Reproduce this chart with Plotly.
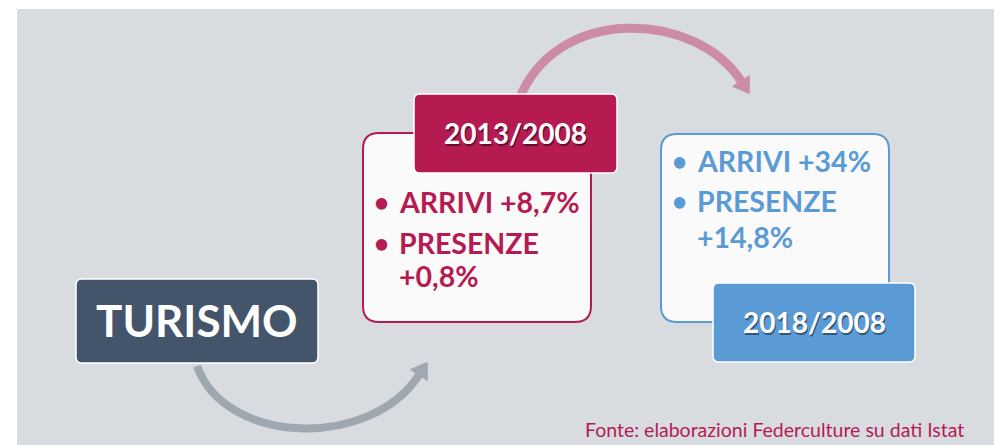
import math
import plotly.graph_objects as go

# Infographic content
title_label = "TURISMO"
period_labels = ["2013/2008", "2018/2008"]
arrivi_values = ["+8,7%", "+34%"]
presenze_values = ["+0,8%", "+14,8%"]
source_note = "Fonte: elaborazioni Federculture su dati Istat"

BG = "#D8DCE1"
NAVY = "#44546A"
CRIMSON = "#B51B51"
BLUE = "#5B9BD5"
GRAY_ARROW = "#9FA7B0"
PINK_ARROW = "#CC8CA7"
FONT = "Lato"


def rounded_rect(x0, y0, x1, y1, r):
    # SVG path for a rounded rectangle (y grows downwards)
    return (
        f"M {x0 + r},{y0} L {x1 - r},{y0} Q {x1},{y0} {x1},{y0 + r} "
        f"L {x1},{y1 - r} Q {x1},{y1} {x1 - r},{y1} "
        f"L {x0 + r},{y1} Q {x0},{y1} {x0},{y1 - r} "
        f"L {x0},{y0 + r} Q {x0},{y0} {x0 + r},{y0} Z"
    )


def curved_arrow(p0, p1, p2, p3, color, width, head_len, head_w):
    # cubic bezier body + triangular head along the end tangent
    dx, dy = p3[0] - p2[0], p3[1] - p2[1]
    n = math.hypot(dx, dy)
    ux, uy = dx / n, dy / n
    tip = (p3[0] + ux * head_len, p3[1] + uy * head_len)
    wa = (p3[0] - uy * head_w, p3[1] + ux * head_w)
    wb = (p3[0] + uy * head_w, p3[1] - ux * head_w)
    body = dict(
        type="path",
        path=f"M {p0[0]},{p0[1]} C {p1[0]},{p1[1]} {p2[0]},{p2[1]} {p3[0]},{p3[1]}",
        line=dict(color=color, width=width),
    )
    head = dict(
        type="path",
        path=f"M {wa[0]},{wa[1]} L {tip[0]},{tip[1]} L {wb[0]},{wb[1]} Z",
        fillcolor=color,
        line=dict(color=color, width=1),
    )
    return [body, head]


shapes = []
# grey backdrop
shapes.append(dict(type="rect", x0=17, y0=9, x1=1010, y1=453,
                   fillcolor=BG, line=dict(width=0)))
# arrows
shapes += curved_arrow((197, 366), (225, 445), (370, 450), (419, 375),
                       GRAY_ARROW, 8, 15, 10)
shapes += curved_arrow((519, 100), (555, 5), (695, 10), (741, 81),
                       PINK_ARROW, 9, 15, 10)
# white cards
shapes.append(dict(type="path", path=rounded_rect(363, 133, 591, 322, 16),
                   fillcolor="#FAFAFA", line=dict(color=CRIMSON, width=2)))
shapes.append(dict(type="path", path=rounded_rect(661, 134, 889, 322, 16),
                   fillcolor="#FAFAFA", line=dict(color=BLUE, width=2)))
# header boxes
shapes.append(dict(type="path", path=rounded_rect(414, 94, 617, 173, 6),
                   fillcolor=CRIMSON, line=dict(color="white", width=1.5)))
shapes.append(dict(type="path", path=rounded_rect(713, 283, 915, 362, 6),
                   fillcolor=BLUE, line=dict(color="white", width=1.5)))
shapes.append(dict(type="path", path=rounded_rect(76, 279, 318, 363, 6),
                   fillcolor=NAVY, line=dict(color="white", width=1.5)))

annotations = []


def add_text(x, y, text, size, color, bold=True, xanchor="center"):
    annotations.append(dict(
        x=x, y=y, xref="x", yref="y", text=f"<b>{text}</b>" if bold else text,
        showarrow=False, xanchor=xanchor, yanchor="middle",
        font=dict(family=FONT, size=size, color=color),
    ))


add_text(197, 320, title_label, 44, "white")

# header labels with a soft shadow
header_pos = [(515, 133), (814, 322)]
for (hx, hy), lab in zip(header_pos, period_labels):
    add_text(hx + 1.5, hy + 1.5, lab, 28, "rgba(0,0,0,0.45)")
    add_text(hx, hy, lab, 28, "white")

# bullet lists
card_pos = [(381, 397, 202, 243, 276, CRIMSON), (679, 695, 161, 201, 237, BLUE)]
for (bx, tx, y1, y2, y3, col), arr, pres in zip(card_pos, arrivi_values, presenze_values):
    add_text(bx, y1, "•", 26, col)
    add_text(tx, y1, f"ARRIVI {arr}", 28.5, col, xanchor="left")
    add_text(bx, y2, "•", 26, col)
    add_text(tx, y2, "PRESENZE", 28.5, col, xanchor="left")
    add_text(tx, y3, pres, 28.5, col, xanchor="left")

add_text(583, 429, source_note, 19.5, CRIMSON, bold=False, xanchor="left")

fig = go.Figure()
# the page body keeps an 8 px margin, so the ranges are shifted by 8
fig.update_layout(
    width=1002,
    height=445,
    margin=dict(l=0, r=0, t=0, b=0),
    paper_bgcolor="white",
    plot_bgcolor="white",
    xaxis=dict(range=[8, 1010], visible=False, fixedrange=True),
    yaxis=dict(range=[453, 8], visible=False, fixedrange=True),
    shapes=shapes,
    annotations=annotations,
    showlegend=False,
)

fig.write_html("out.html")
